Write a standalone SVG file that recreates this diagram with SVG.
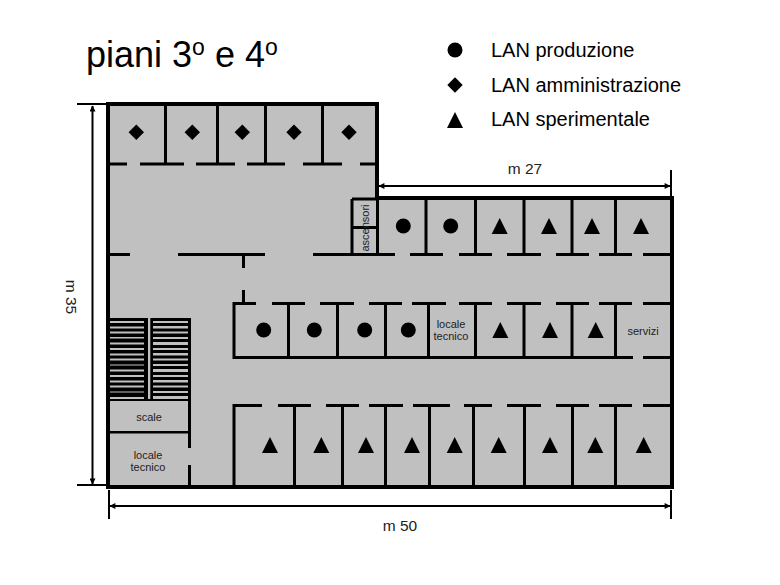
<svg xmlns="http://www.w3.org/2000/svg" width="780" height="585" viewBox="0 0 780 585">
<style>
text{font-family:"Liberation Sans",Arial,sans-serif;fill:#000}
.t{font-size:36px}.l{font-size:20px}.d{font-size:15.500px;fill:#222}.s{font-size:11px;fill:#222;text-anchor:middle}
.o{fill:#c0c0c0;stroke:#000;stroke-width:4}
.w{fill:none;stroke:#000;stroke-width:3}
.k{fill:none;stroke:#000;stroke-width:2}
.g{fill:#c0c0c0}
.h{fill:#000}
</style>
<defs>
<marker id="a" viewBox="0 0 10 10" refX="9" refY="5" markerWidth="7" markerHeight="6" orient="auto-start-reverse" markerUnits="userSpaceOnUse"><path d="M0 0L10 5L0 10z" fill="#000"/></marker>
<circle id="c" r="7.5"/>
<path id="m" d="M0-7.7L7.7 0L0 7.7L-7.7 0z"/>
<path id="v" d="M0-8L8 8H-8z"/>
</defs>
<rect width="780" height="585" fill="#fff"/>
<g id="title"><text class="t" x="86" y="67">piani 3<tspan font-size="23" dy="-12">o</tspan><tspan dy="12"> e 4</tspan><tspan font-size="23" dy="-12">o</tspan></text></g>
<g id="legend">
<use href="#c" x="455" y="50" class="h"/><text class="l" x="491" y="57">LAN produzione</text>
<use href="#m" x="455" y="85" class="h"/><text class="l" x="491" y="92">LAN amministrazione</text>
<use href="#v" x="455" y="120" class="h"/><text class="l" x="491" y="126">LAN sperimentale</text>
</g>
<g id="plan">
<path class="o" d="M108 104H377V198H672V487H108z"/>
<path class="w" d="M165.500 104V164M217.500 104V164M265.500 104V164M322.500 104V164
M108 164H127M140 164H184M196 164H235M247 164H285M303 164H342M360 164H377
M108 254.500H130M178 254.500H265M313 254.500H395M410 254.500H443M459 254.500H492M507 254.500H541M556 254.500H589M599 254.500H632M643 254.500H672
M243.500 254V268M243.500 290V303
M352 199V254M352 199H377M352 227.500H377M377.500 198V254
M426 198V254M475.500 198V254M524 198V254M572 198V254M615.500 198V254
M232.500 303.500H256M272 303.500H305M320 303.500H354M369 303.500H402M412 303.500H446M459 303.500H492M507 303.500H541M556 303.500H589M599 303.500H632M643 303.500H672
M234 303V357M288.500 303V357M337.500 303V357M385.500 303V357M428.500 303V357M475.500 303V357M524 303V357M572 303V357M615.500 303V357
M232.500 357.500H633M643 357.500H672
M232.500 405.500H262M278 405.500H311M326 405.500H359M369 405.500H403M413 405.500H450M464 405.500H492M507 405.500H541M556 405.500H589M599 405.500H632M643 405.500H672
M234 405V487M294.500 405V487M342.500 405V487M385.500 405V487M429.500 405V487M473.500 405V487M524.500 405V487M572.500 405V487M615.500 405V487
M108 432H189M189.500 400V448M189.500 465V487"/>
</g>
<g id="stairs">
<rect x="108" y="318" width="83" height="83" class="h"/>
<rect x="148" y="318" width="2.300" height="81" class="g"/>
<path class="g" d="M110 321h34v2h-34zM110 326.500h34v2h-34zM110 331.500h34v2h-34zM110 337h34v1.500h-34zM110 342.500h34v2h-34zM110 348h34v2h-34zM110 353.500h34v2h-34zM110 358.500h34v2h-34zM110 364.500h34v1h-34zM110 369.500h34v2h-34zM110 375h34v2h-34zM110 380.500h34v2h-34zM110 385.500h34v2h-34zM110 391.500h34v1h-34zM110 397h34v2h-34z"/>
<path class="g" d="M153 321h35v2h-35zM153 326h35v2.500h-35zM153 331.500h35v2h-35zM153 337h35v2h-35zM153 342h35v3h-35zM153 348h35v2h-35zM153 353h35v2.500h-35zM153 358.500h35v2h-35zM153 364h35v2h-35zM153 369h35v3h-35zM153 375h35v2h-35zM153 380h35v2.500h-35zM153 385.500h35v2h-35zM153 391h35v2h-35zM153 396h35v3h-35z"/>
<rect x="110" y="401" width="78" height="30" class="g"/>
</g>
<g id="symbols" class="h">
<use href="#m" x="136.300" y="132.300"/><use href="#m" x="192.300" y="132.300"/><use href="#m" x="242.300" y="132.300"/><use href="#m" x="294" y="132.300"/><use href="#m" x="349" y="132.300"/>
<use href="#c" x="403.300" y="226"/><use href="#c" x="450.700" y="226"/><use href="#v" x="499.700" y="226"/><use href="#v" x="549" y="226"/><use href="#v" x="592" y="226"/><use href="#v" x="641" y="226"/>
<use href="#c" x="263.700" y="330"/><use href="#c" x="314.300" y="330"/><use href="#c" x="364.700" y="330"/><use href="#c" x="408.300" y="330"/><use href="#v" x="500.300" y="330"/><use href="#v" x="550" y="330"/><use href="#v" x="595.700" y="330"/>
<use href="#v" x="270" y="445"/><use href="#v" x="321.300" y="445"/><use href="#v" x="366" y="445"/><use href="#v" x="412" y="445"/><use href="#v" x="454.700" y="445"/><use href="#v" x="498.700" y="445"/><use href="#v" x="550" y="445"/><use href="#v" x="595.300" y="445"/><use href="#v" x="643.700" y="445"/>
</g>
<g id="labels">
<text class="s" transform="translate(369 228) rotate(-90)">ascensori</text>
<text class="s" x="451" y="328">locale</text><text class="s" x="451" y="340">tecnico</text>
<text class="s" x="643" y="335">servizi</text>
<text class="s" x="149" y="421">scale</text>
<text class="s" x="148" y="459">locale</text><text class="s" x="148" y="471">tecnico</text>
</g>
<g id="dimensions">
<path class="k" d="M92.500 106V484" marker-start="url(#a)" marker-end="url(#a)"/>
<path class="k" d="M77 104H108M77 485H108M671 170V197M109 490V519M671 490V519"/>
<path class="k" d="M379 186H670" marker-start="url(#a)" marker-end="url(#a)"/>
<path class="k" d="M110 506H670" marker-start="url(#a)" marker-end="url(#a)"/>
<text class="d" text-anchor="middle" x="525" y="174">m 27</text>
<text class="d" text-anchor="middle" x="400" y="531">m 50</text>
<text class="d" text-anchor="middle" transform="translate(66 297) rotate(90)">m 35</text>
</g>
</svg>
